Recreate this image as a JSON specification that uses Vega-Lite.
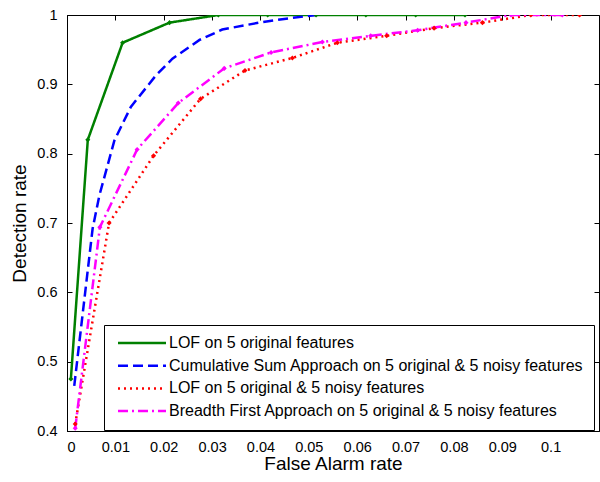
{
  "$schema": "https://vega.github.io/schema/vega-lite/v6.json",
  "width": 532,
  "height": 416,
  "autosize": {"type": "none"},
  "padding": {"left": 67, "top": 15, "right": 1, "bottom": 51},
  "background": "white",
  "config": {
    "font": "Liberation Sans",
    "view": {"stroke": "black", "strokeWidth": 1},
    "axis": {
      "grid": false,
      "domainColor": "black",
      "tickColor": "black",
      "labelColor": "black",
      "labelFont": "Liberation Sans",
      "labelFontSize": 14.5,
      "titleFont": "Liberation Sans",
      "titleFontSize": 19,
      "titleFontWeight": "normal",
      "titleColor": "black",
      "tickSize": -5
    },
    "legend": {
      "orient": "none",
      "legendX": 37,
      "legendY": 310,
      "padding": 10,
      "strokeColor": "black",
      "fillColor": "white",
      "labelFont": "Liberation Sans",
      "labelFontSize": 16,
      "labelColor": "black",
      "labelLimit": 600,
      "labelOffset": 39,
      "symbolType": "M-1,0L11,0",
      "symbolSize": 64,
      "symbolStrokeWidth": 2.5,
      "rowPadding": 6.7,
      "cornerRadius": 0
    }
  },
  "data": {
    "values": [
      {"series": "LOF on 5 original features", "x": 0.0008, "y": 0.475},
      {"series": "LOF on 5 original features", "x": 0.0043, "y": 0.82},
      {"series": "LOF on 5 original features", "x": 0.0115, "y": 0.96},
      {"series": "LOF on 5 original features", "x": 0.0212, "y": 0.989},
      {"series": "LOF on 5 original features", "x": 0.0313, "y": 1.0},
      {"series": "LOF on 5 original features", "x": 0.0415, "y": 1.0},
      {"series": "LOF on 5 original features", "x": 0.0515, "y": 1.0},
      {"series": "LOF on 5 original features", "x": 0.0618, "y": 1.0},
      {"series": "LOF on 5 original features", "x": 0.0721, "y": 1.0},
      {"series": "LOF on 5 original features", "x": 0.0823, "y": 1.0},

      {"series": "Cumulative Sum Approach on 5 original & 5 noisy features", "x": 0.0015, "y": 0.465},
      {"series": "Cumulative Sum Approach on 5 original & 5 noisy features", "x": 0.0053, "y": 0.692},
      {"series": "Cumulative Sum Approach on 5 original & 5 noisy features", "x": 0.0067, "y": 0.74},
      {"series": "Cumulative Sum Approach on 5 original & 5 noisy features", "x": 0.0098, "y": 0.819},
      {"series": "Cumulative Sum Approach on 5 original & 5 noisy features", "x": 0.0132, "y": 0.8675},
      {"series": "Cumulative Sum Approach on 5 original & 5 noisy features", "x": 0.0184, "y": 0.913},
      {"series": "Cumulative Sum Approach on 5 original & 5 noisy features", "x": 0.0218, "y": 0.937},
      {"series": "Cumulative Sum Approach on 5 original & 5 noisy features", "x": 0.0274, "y": 0.964},
      {"series": "Cumulative Sum Approach on 5 original & 5 noisy features", "x": 0.0321, "y": 0.979},
      {"series": "Cumulative Sum Approach on 5 original & 5 noisy features", "x": 0.0397, "y": 0.989},
      {"series": "Cumulative Sum Approach on 5 original & 5 noisy features", "x": 0.0445, "y": 0.994},
      {"series": "Cumulative Sum Approach on 5 original & 5 noisy features", "x": 0.0515, "y": 1.0},

      {"series": "LOF on 5 original & 5 noisy features", "x": 0.0017, "y": 0.41},
      {"series": "LOF on 5 original & 5 noisy features", "x": 0.0087, "y": 0.70},
      {"series": "LOF on 5 original & 5 noisy features", "x": 0.0179, "y": 0.797},
      {"series": "LOF on 5 original & 5 noisy features", "x": 0.0276, "y": 0.879},
      {"series": "LOF on 5 original & 5 noisy features", "x": 0.0368, "y": 0.92},
      {"series": "LOF on 5 original & 5 noisy features", "x": 0.0466, "y": 0.938},
      {"series": "LOF on 5 original & 5 noisy features", "x": 0.0559, "y": 0.96},
      {"series": "LOF on 5 original & 5 noisy features", "x": 0.0661, "y": 0.97},
      {"series": "LOF on 5 original & 5 noisy features", "x": 0.0759, "y": 0.981},
      {"series": "LOF on 5 original & 5 noisy features", "x": 0.0859, "y": 0.989},
      {"series": "LOF on 5 original & 5 noisy features", "x": 0.0959, "y": 1.0},
      {"series": "LOF on 5 original & 5 noisy features", "x": 0.106, "y": 1.0},

      {"series": "Breadth First Approach on 5 original & 5 noisy features", "x": 0.0017, "y": 0.404},
      {"series": "Breadth First Approach on 5 original & 5 noisy features", "x": 0.0068, "y": 0.694},
      {"series": "Breadth First Approach on 5 original & 5 noisy features", "x": 0.0145, "y": 0.806},
      {"series": "Breadth First Approach on 5 original & 5 noisy features", "x": 0.023, "y": 0.873},
      {"series": "Breadth First Approach on 5 original & 5 noisy features", "x": 0.0325, "y": 0.923},
      {"series": "Breadth First Approach on 5 original & 5 noisy features", "x": 0.0422, "y": 0.946},
      {"series": "Breadth First Approach on 5 original & 5 noisy features", "x": 0.0528, "y": 0.961},
      {"series": "Breadth First Approach on 5 original & 5 noisy features", "x": 0.0628, "y": 0.97},
      {"series": "Breadth First Approach on 5 original & 5 noisy features", "x": 0.0725, "y": 0.978},
      {"series": "Breadth First Approach on 5 original & 5 noisy features", "x": 0.0825, "y": 0.989},
      {"series": "Breadth First Approach on 5 original & 5 noisy features", "x": 0.0918, "y": 1.0},
      {"series": "Breadth First Approach on 5 original & 5 noisy features", "x": 0.1024, "y": 1.0}
    ]
  },
  "resolve": {"axis": {"x": "independent", "y": "independent"}},
  "layer": [
    {
      "mark": {"type": "line", "strokeWidth": 2.5, "clip": true},
      "encoding": {
        "x": {"field": "x", "type": "quantitative", "scale": {"domain": [0, 0.11], "nice": false, "zero": false},
              "axis": {"title": "False Alarm rate", "values": [0, 0.01, 0.02, 0.03, 0.04, 0.05, 0.06, 0.07, 0.08, 0.09, 0.1], "format": "~g", "labelPadding": 14, "titlePadding": 1}},
        "y": {"field": "y", "type": "quantitative", "scale": {"domain": [0.4, 1], "nice": false, "zero": false},
              "axis": {"title": "Detection rate", "values": [0.4, 0.5, 0.6, 0.7, 0.8, 0.9, 1], "format": "~g", "labelPadding": 15, "titlePadding": 7}},
        "color": {"field": "series", "type": "nominal", "title": null,
                  "scale": {"domain": ["LOF on 5 original features", "Cumulative Sum Approach on 5 original & 5 noisy features", "LOF on 5 original & 5 noisy features", "Breadth First Approach on 5 original & 5 noisy features"],
                            "range": ["#008000", "#0000ff", "#ff0000", "#ff00ff"]}},
        "strokeDash": {"field": "series", "type": "nominal", "title": null,
                  "scale": {"domain": ["LOF on 5 original features", "Cumulative Sum Approach on 5 original & 5 noisy features", "LOF on 5 original & 5 noisy features", "Breadth First Approach on 5 original & 5 noisy features"],
                            "range": [[1, 0], [10, 5], [2, 4], [10, 4, 2, 4]]}}
      }
    },
    {
      "transform": [{"filter": "datum.series !== 'Cumulative Sum Approach on 5 original & 5 noisy features'"}],
      "mark": {"type": "point", "shape": "diamond", "filled": true, "size": 26, "opacity": 1, "clip": true},
      "encoding": {
        "x": {"field": "x", "type": "quantitative", "axis": null},
        "y": {"field": "y", "type": "quantitative", "axis": null},
        "color": {"field": "series", "type": "nominal", "title": null}
      }
    },
    {
      "mark": {"type": "point", "opacity": 0},
      "encoding": {
        "x": {"field": "x", "type": "quantitative", "axis": {"orient": "top", "labels": false, "title": null, "domain": false, "values": [0, 0.01, 0.02, 0.03, 0.04, 0.05, 0.06, 0.07, 0.08, 0.09, 0.1]}},
        "y": {"field": "y", "type": "quantitative", "axis": {"orient": "right", "labels": false, "title": null, "domain": false, "values": [0.4, 0.5, 0.6, 0.7, 0.8, 0.9, 1]}}
      }
    }
  ]
}
